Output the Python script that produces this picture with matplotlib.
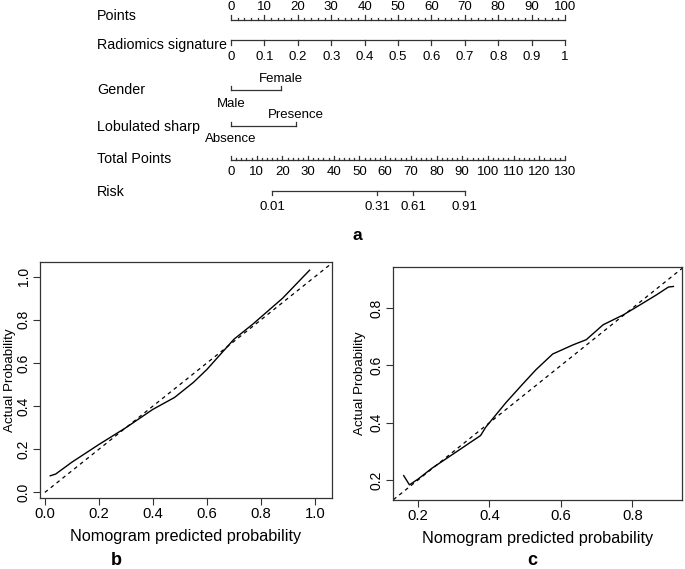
import numpy as np
import matplotlib
matplotlib.use("Agg")
import matplotlib.pyplot as plt

plt.rcParams['font.family'] = ['Liberation Sans', 'DejaVu Sans']

# nomogram scales (all in points units, 0-100)
points_ticks = list(range(0, 101, 10))
radiomics_ticks = [0, 0.1, 0.2, 0.3, 0.4, 0.5, 0.6, 0.7, 0.8, 0.9, 1]
gender_labels = ['Male', 'Female']
gender_points = [0, 15]
lobulated_labels = ['Absence', 'Presence']
lobulated_points = [0, 19.5]
total_ticks = list(range(0, 131, 10))
total_max = 130
risk_labels = ['0.01', '0.31', '0.61', '0.91']
risk_total = [16, 57, 71, 91]

# calibration curves
b_pred = [0.02, 0.04, 0.10, 0.20, 0.30, 0.40, 0.48, 0.55, 0.60, 0.65, 0.70,
          0.77, 0.88, 0.98]
b_actual = [0.077, 0.085, 0.14, 0.222, 0.30, 0.385, 0.44, 0.51, 0.57, 0.64,
            0.71, 0.78, 0.90, 1.03]
c_pred = [0.160, 0.176, 0.200, 0.239, 0.300, 0.357, 0.375, 0.390, 0.446,
          0.493, 0.530, 0.577, 0.634, 0.671, 0.718, 0.775, 0.822, 0.868,
          0.901, 0.915]
c_actual = [0.215, 0.183, 0.203, 0.241, 0.292, 0.340, 0.355, 0.385, 0.470,
            0.535, 0.585, 0.640, 0.672, 0.690, 0.742, 0.777, 0.812, 0.847,
            0.874, 0.876]

fig = plt.figure(figsize=(6.85, 5.69), dpi=100)

# ---- panel a: nomogram ----
H = 245
ax = fig.add_axes([0, 1 - H / 569, 1, H / 569])
px = 3.34  # pixels per point
ax.set_xlim(-231 / px, (685 - 231) / px)
ax.set_ylim(H, 0)
ax.axis('off')
lab_x = -134 / px
lw = 0.9
col = '#333333'
lab_fs = 10.3
tk_fs = 9.5

def row_label(y, text):
    ax.text(lab_x, y, text, fontsize=lab_fs, va='center', ha='left')

# Points
y = 20
row_label(16, 'Points')
ax.plot([0, 100], [y, y], color=col, lw=lw)
for v in range(0, 101, 2):
    h = 5 if v % 10 == 0 else 2.5
    ax.plot([v, v], [y, y - h], color=col, lw=lw)
for v in points_ticks:
    ax.text(v, 7, str(v), fontsize=tk_fs, ha='center', va='center')

# Radiomics signature
y = 40
row_label(45, 'Radiomics signature')
ax.plot([0, 100], [y, y], color=col, lw=lw)
for v in radiomics_ticks:
    ax.plot([v * 100, v * 100], [y, y + 5], color=col, lw=lw)
    ax.text(v * 100, 57, '%g' % v, fontsize=tk_fs, ha='center', va='center')

# Gender
y = 90
row_label(90, 'Gender')
ax.plot(gender_points, [y, y], color=col, lw=lw)
for v in gender_points:
    ax.plot([v, v], [y, y - 4], color=col, lw=lw)
ax.text(gender_points[1], 79, gender_labels[1], fontsize=tk_fs, ha='center', va='center')
ax.text(gender_points[0], 104, gender_labels[0], fontsize=tk_fs, ha='center', va='center')

# Lobulated sharp
y = 126
row_label(127, 'Lobulated sharp')
ax.plot(lobulated_points, [y, y], color=col, lw=lw)
for v in lobulated_points:
    ax.plot([v, v], [y, y - 4], color=col, lw=lw)
ax.text(lobulated_points[1], 115, lobulated_labels[1], fontsize=tk_fs, ha='center', va='center')
ax.text(lobulated_points[0], 139, lobulated_labels[0], fontsize=tk_fs, ha='center', va='center')

# Total Points
y = 160
sc = 100 / total_max
row_label(159, 'Total Points')
ax.plot([0, 100], [y, y], color=col, lw=lw)
for v in range(0, total_max + 1, 2):
    h = 4 if v % 10 == 0 else 2.5
    ax.plot([v * sc, v * sc], [y, y - h], color=col, lw=lw)
for v in total_ticks:
    ax.text(v * sc, 172, str(v), fontsize=tk_fs, ha='center', va='center')

# Risk
y = 191
row_label(192, 'Risk')
ax.plot([risk_total[0] * sc, risk_total[-1] * sc], [y, y], color=col, lw=lw)
for v, t in zip(risk_total, risk_labels):
    ax.plot([v * sc, v * sc], [y, y + 4], color=col, lw=lw)
    ax.text(v * sc, 207, t, fontsize=tk_fs, ha='center', va='center')

fig.text(357 / 685, 1 - 236 / 569, 'a', fontsize=12.5, fontweight='bold',
         ha='center', va='center')


# ---- panels b and c: calibration ----
def calib(rect, pred, actual, lim, ticks, letter, lx, ylpad):
    a = fig.add_axes(rect)
    a.plot([0, 1.2], [0, 1.2], ls=(0, (3, 3)), color='black', lw=0.9)
    a.plot(pred, actual, color='black', lw=1.0)
    a.set_xlim(lim[0], lim[1])
    a.set_ylim(lim[2], lim[3])
    a.set_xticks(ticks[0])
    a.set_xticklabels(['%.1f' % t for t in ticks[0]], fontsize=10.7)
    a.set_yticks(ticks[1])
    a.set_yticklabels(['%.1f' % t for t in ticks[1]], fontsize=10, rotation=90,
                      va='center')
    a.tick_params(direction='out', length=5, width=0.8, color='#333333', pad=1.5)
    for s in a.spines.values():
        s.set_linewidth(0.9)
        s.set_color('#333333')
    a.set_xlabel('Nomogram predicted probability', fontsize=11.7, labelpad=6)
    a.set_ylabel('Actual Probability', fontsize=9.6, labelpad=ylpad)
    fig.text(lx / 685, 1 - 565 / 569, letter, fontsize=13, fontweight='bold',
             ha='center', va='baseline')
    return a

calib([40 / 685, 1 - 498 / 569, 292 / 685, 236 / 569], b_pred, b_actual,
      (-0.018, 1.063, -0.026, 1.068),
      ([0.0, 0.2, 0.4, 0.6, 0.8, 1.0], [0.0, 0.2, 0.4, 0.6, 0.8, 1.0]),
      'b', 116, 1)
calib([393 / 685, 1 - 500 / 569, 289 / 685, 233 / 569], c_pred, c_actual,
      (0.130, 0.939, 0.130, 0.944),
      ([0.2, 0.4, 0.6, 0.8], [0.2, 0.4, 0.6, 0.8]),
      'c', 532, 3)

fig.savefig('out.png', dpi=100)
